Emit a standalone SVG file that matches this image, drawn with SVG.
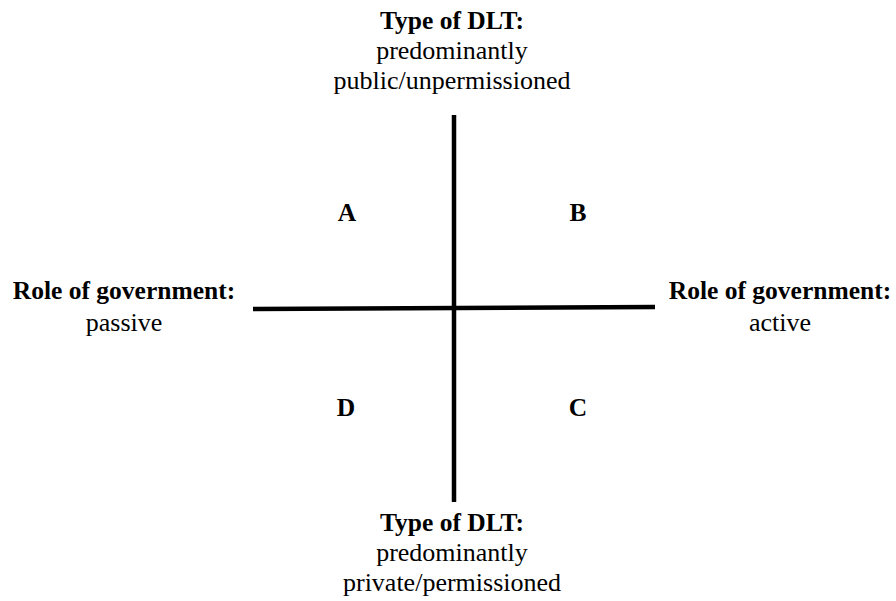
<svg xmlns="http://www.w3.org/2000/svg" width="896" height="601" viewBox="0 0 896 601">
<style>
text{font-family:"Liberation Serif","Times New Roman",serif;font-size:26px;fill:#000;text-anchor:middle}
.b{font-weight:bold;font-size:25.5px}
.ax{stroke:#000;stroke-width:4.5;fill:none}
</style>
<rect width="896" height="601" fill="#fff"/>
<g id="connectors">
<line class="ax" x1="454" y1="115" x2="454" y2="502"/>
<line class="ax" x1="253" y1="309" x2="655" y2="307"/>
</g>
<g id="top">
<text class="b" x="452" y="29">Type of DLT:</text>
<text x="452" y="59">predominantly</text>
<text x="452" y="89">public/unpermissioned</text>
</g>
<g id="bottom">
<text class="b" x="452" y="531">Type of DLT:</text>
<text x="452" y="561">predominantly</text>
<text x="452" y="591">private/permissioned</text>
</g>
<g id="left">
<text class="b" x="124" y="299">Role of government:</text>
<text x="124" y="331">passive</text>
</g>
<g id="right">
<text class="b" x="780" y="299">Role of government:</text>
<text x="780" y="331">active</text>
</g>
<g id="A"><text class="b" x="347" y="221">A</text></g>
<g id="B"><text class="b" x="578" y="221">B</text></g>
<g id="C"><text class="b" x="578" y="416">C</text></g>
<g id="D"><text class="b" x="346" y="416">D</text></g>
</svg>
